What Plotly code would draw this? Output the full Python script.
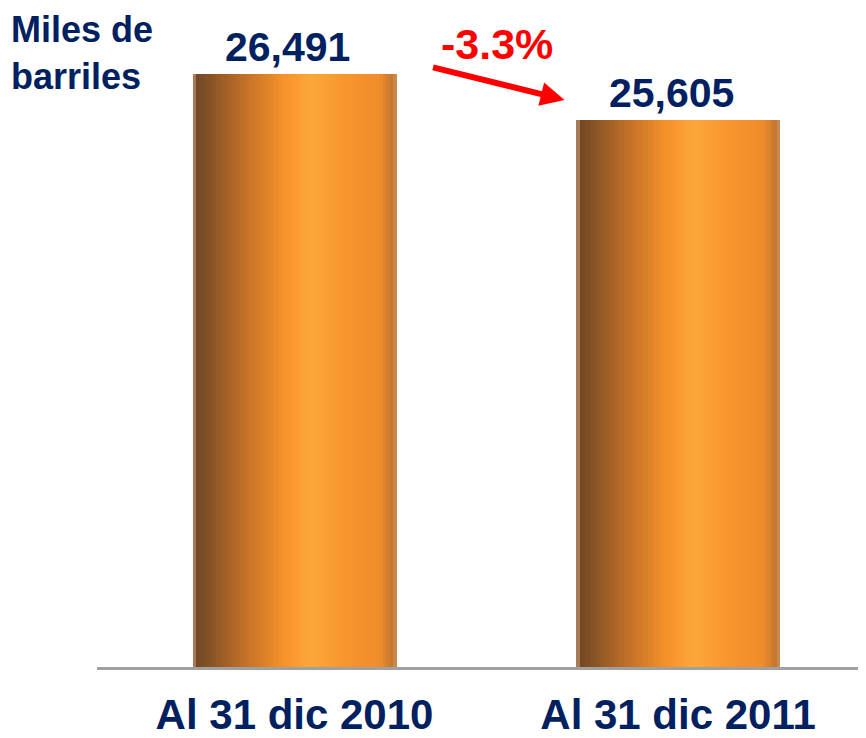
import plotly.graph_objects as go

categories = ["Al 31 dic 2010", "Al 31 dic 2011"]
values = [26491, 25605]
value_labels = ["26,491", "25,605"]
unit_label = "Miles de<br>barriles"

NAVY = "#002060"
FONT = "Liberation Sans"

# horizontal gradient stops for the cylinder-like bars (style only)
stops = [
    (0.00, (205, 160, 120)),
    (0.02, (112, 72, 36)),
    (0.25, (192, 111, 40)),
    (0.45, (247, 146, 42)),
    (0.58, (252, 167, 58)),
    (0.75, (248, 149, 44)),
    (0.92, (240, 140, 42)),
    (0.985, (190, 116, 50)),
    (1.00, (217, 160, 112)),
]

def grad_color(t):
    for (t0, c0), (t1, c1) in zip(stops[:-1], stops[1:]):
        if t0 <= t <= t1:
            f = 0 if t1 == t0 else (t - t0) / (t1 - t0)
            return "rgb(%d,%d,%d)" % tuple(round(a + (b - a) * f) for a, b in zip(c0, c1))
    return "rgb(%d,%d,%d)" % stops[-1][1]

xs = list(range(len(categories)))
BAR_W = 0.531
N = 60
fig = go.Figure()
for k in range(N):
    t = (k + 0.5) / N
    fig.add_trace(go.Bar(
        x=xs, y=values,
        width=BAR_W / N * 1.15,
        offset=-BAR_W / 2 + k * BAR_W / N,
        marker=dict(color=grad_color(t), line=dict(width=0)),
        hoverinfo="skip", showlegend=False,
    ))

# value labels
for xi, v, lab in zip(xs, values, value_labels):
    fig.add_annotation(x=xi, y=v, text=lab, showarrow=False, yanchor="bottom",
                       xshift=-7, yshift=2,
                       font=dict(family=FONT, size=41, color=NAVY, weight="bold"))

# unit label
fig.add_annotation(xref="paper", yref="paper", x=0, y=1, xanchor="left", yanchor="top",
                   xshift=-88, yshift=13, text=unit_label, showarrow=False, align="left",
                   font=dict(family=FONT, size=36, color=NAVY, weight="bold"))

# change arrow & label
pct = (values[1] - values[0]) / values[0] * 100
fig.add_annotation(x=0.704, y=25988, ax=-133, ay=-33, showarrow=True,
                   arrowhead=2, arrowsize=0.8, arrowwidth=6, arrowcolor="red", text="")
fig.add_annotation(x=0.5, y=values[0], text="%.1f%%" % pct, showarrow=False,
                   xshift=11, yshift=4, yanchor="bottom",
                   font=dict(family=FONT, size=43, color="red", weight="bold"))

# the page body adds an 8px margin, so the figure is 8px smaller than the window
fig.update_layout(
    width=858, height=730,
    margin=dict(l=89, r=0, t=12, b=71),
    paper_bgcolor="white", plot_bgcolor="white",
    barmode="overlay", bargap=0,
    xaxis=dict(range=[-0.515, 1.49], tickvals=xs, ticktext=categories,
               showgrid=False, zeroline=False, showline=True, linecolor="#a0a0a0",
               linewidth=3, ticks="", ticklabelstandoff=9, automargin=False,
               tickfont=dict(family=FONT, size=42, color=NAVY, weight="bold")),
    yaxis=dict(range=[15000, 27537], visible=False, showgrid=False, zeroline=False,
               automargin=False),
)

fig.write_html("out.html")
